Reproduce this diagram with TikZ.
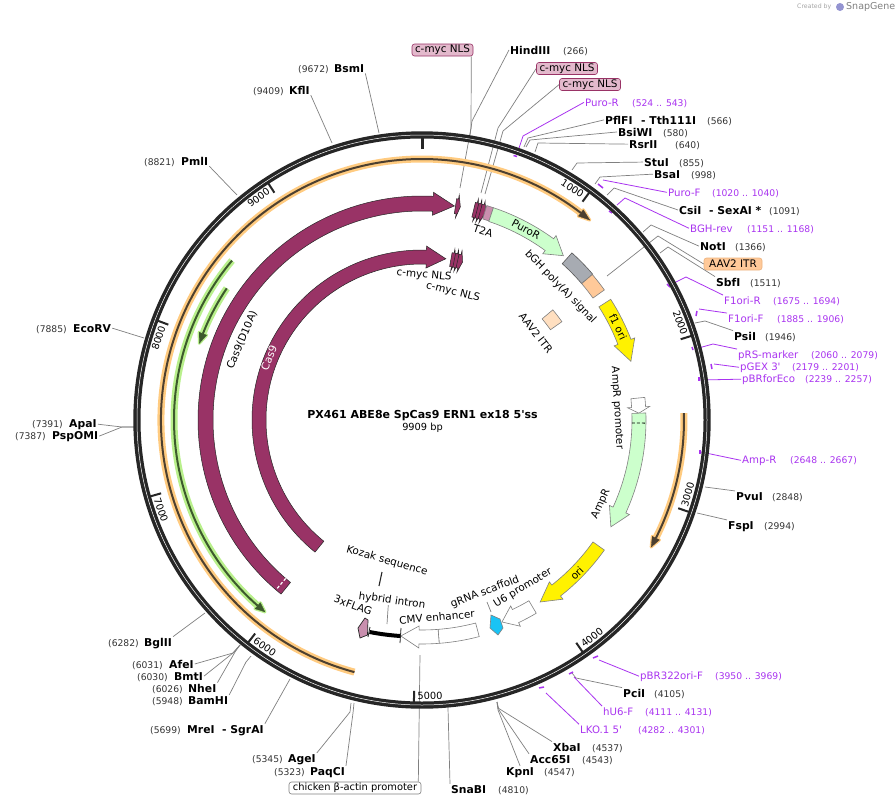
\documentclass[tikz,border=0pt]{standalone}
\usepackage{fontspec}
\setmainfont[Ligatures=TeXOff]{DejaVu Sans}
\definecolor{maroon}{HTML}{993366}
\definecolor{ringc}{HTML}{262626}
\definecolor{prim}{HTML}{A933F0}
\definecolor{lnc}{HTML}{808080}
\definecolor{numc}{HTML}{333333}
\definecolor{pinkf}{HTML}{C98FAE}
\definecolor{mycf}{HTML}{E3B9CC}
\definecolor{orhalo}{HTML}{FFCB80}
\definecolor{ordark}{HTML}{4D4030}
\definecolor{grhalo}{HTML}{B9F08C}
\definecolor{grdark}{HTML}{3D5A2D}
\definecolor{bghc}{HTML}{A7ABB2}
\definecolor{aavc}{HTML}{FFC999}
\definecolor{aavl}{HTML}{FFDFC0}
\definecolor{cyanf}{HTML}{19C3F5}
\definecolor{greenf}{HTML}{CCFFCC}
\tikzset{
  sitename/.style={anchor=base west,inner sep=1pt,font=\fontsize{10.8}{13}\selectfont\bfseries},
  sitenum/.style={anchor=base west,inner sep=1pt,text=numc,font=\fontsize{9.2}{11}\selectfont},
  primname/.style={anchor=base west,inner sep=1pt,text=prim,font=\fontsize{10.2}{13}\selectfont},
  primnum/.style={anchor=base west,inner sep=1pt,text=prim,font=\fontsize{9.2}{11}\selectfont},
  boxlab/.style={rounded corners=2.5pt,draw=maroon,fill=mycf,line width=.6pt,inner sep=0pt,minimum height=12pt,font=\fontsize{10.4}{12}\selectfont},
  feat/.style={inner sep=0pt,font=\fontsize{10.4}{12}\selectfont},
  ln/.style={draw=lnc,line width=.7pt},
  pl/.style={draw=prim,line width=.8pt},
  pt/.style={draw=prim,line width=1.5pt},
  fborder/.style={draw=gray,line width=.6pt},
  ticktick/.style={draw=ringc,line width=2pt},
  mycsty/.style={fill=maroon,draw=ringc,line width=.5pt},
}
% polar helpers: angles are clockwise from top
\newcommand\sect[5]{\draw[#5] ({90-#3}:#1) arc[start angle={90-#3},end angle={90-#4},radius=#1] -- ({90-#4}:#2) arc[start angle={90-#4},end angle={90-#3},radius=#2] -- cycle;}
\newcommand\arrowf[6]{\draw[#6,line join=miter] ({90-#3}:#1) arc[start angle={90-#3},end angle={90-#4},radius=#1] -- ({90-#4}:{#1-4}) -- ({90-#5}:{(#1+#2)/2}) -- ({90-#4}:{#2+4}) -- ({90-#4}:#2) arc[start angle={90-#4},end angle={90-#3},radius=#2] -- cycle;}
\newcommand\thinarrow[6]{%
  \draw[#5,line width=7pt] ({90-#2}:#1) arc[start angle={90-#2},end angle={90-#3},radius=#1];
  \draw[#5,fill=#5,line width=3pt,line join=round] ({90-#3}:{#1-4}) -- ({90-#4}:#1) -- ({90-#3}:{#1+4}) -- cycle;
  \draw[#6,line width=2pt] ({90-#2}:#1) arc[start angle={90-#2},end angle={90-#3},radius=#1];
  \draw[#6,fill=#6,line width=.3pt] ({90-#3}:{#1-4}) -- ({90-#4}:#1) -- ({90-#3}:{#1+4}) -- cycle;}
\newcommand\ticklab[3]{%
  \draw[ticktick] ({90-#2}:271) -- ({90-#2}:283);
  \pgfmathsetmacro\lt{#2-3.3}
  \pgfmathsetmacro\lr{(\lt>270 ? -\lt : (\lt>90 ? 180-\lt : -\lt))}
  \node[feat,rotate=\lr,font=\fontsize{9.8}{12}\selectfont] (#3) at ({90-\lt}:276) {#1};}
% labels
\newcommand\site[6]{\node[sitename] (#1) at (#2,#3+4) {#4};\node[sitenum] (#1n) at (#5,#3+4) {#6};}
\newcommand\primer[6]{\node[primname] (#1) at (#2,#3+4) {#4};\node[primnum] (#1n) at (#5,#3+4) {#6};}
% connector: name, style, start, middle path, end
\newcommand\cn[5]{\coordinate (#1e) at (#5);\path[#2] (#3) #4 -- (#1e);}
\begin{document}
\begin{tikzpicture}[x=1pt,y=-1pt]
\useasboundingbox (0,0) rectangle (895,806);
\fill[white] (0,0) rectangle (895,806);

% --- labels
\site{hind}{509}{50}{HindIII}{562}{(266)}
\site{pfl}{604}{120}{PflFI}{706}{(566)}
\node[sitename] (tth) at (640,124) {- Tth111I};
\site{bsi}{617}{132}{BsiWI}{662}{(580)}
\site{rsr}{628}{144}{RsrII}{674}{(640)}
\site{stu}{643}{162}{StuI}{678}{(855)}
\site{bsa}{653}{174}{BsaI}{690}{(998)}
\site{csi}{678}{210}{CsiI}{768}{(1091)}
\node[sitename] (sex) at (708,214) {- SexAI *};
\site{not}{699}{246}{NotI}{734}{(1366)}
\site{sbf}{715}{282}{SbfI}{749}{(1511)}
\site{psi}{733}{336}{PsiI}{764}{(1946)}
\site{pvu}{735}{496}{PvuI}{771}{(2848)}
\site{fsp}{727}{525}{FspI}{763}{(2994)}
\site{pci}{622}{693}{PciI}{653}{(4105)}
\site{xba}{552}{747}{XbaI}{591}{(4537)}
\site{acc}{529}{759}{Acc65I}{581}{(4543)}
\site{kpn}{505}{771}{KpnI}{543}{(4547)}
\site{sna}{450}{789}{SnaBI}{497}{(4810)}
\site{bsm}{333}{68}{BsmI}{297}{(9672)}
\site{kfl}{288}{90}{KflI}{252}{(9409)}
\site{pml}{180}{161}{PmlI}{143}{(8821)}
\site{eco}{72}{328}{EcoRV}{35}{(7885)}
\site{apa}{68}{423}{ApaI}{31}{(7391)}
\site{psp}{51}{435}{PspOMI}{14}{(7387)}
\site{bgl}{143}{642}{BglII}{107}{(6282)}
\site{afe}{168}{664}{AfeI}{131}{(6031)}
\site{bmt}{173}{676}{BmtI}{136}{(6030)}
\site{nhe}{187}{688}{NheI}{151}{(6026)}
\site{bam}{187}{700}{BamHI}{151}{(5948)}
\site{mre}{186}{729}{MreI}{149}{(5699)}
\node[sitename] (sgr) at (221,733) {- SgrAI};
\site{age}{287}{758}{AgeI}{251}{(5345)}
\site{paq}{309}{771}{PaqCI}{273}{(5323)}

\primer{pup}{584}{102}{Puro-R}{631}{(524 .. 543)}
\primer{puf}{667}{192}{Puro-F}{711}{(1020 .. 1040)}
\primer{bgr}{689}{228}{BGH-rev}{746}{(1151 .. 1168)}
\primer{f1r}{723}{300}{F1ori-R}{772}{(1675 .. 1694)}
\primer{f1f}{727}{318}{F1ori-F}{776}{(1885 .. 1906)}
\primer{prs}{737}{354}{pRS-marker}{810}{(2060 .. 2079)}
\primer{pgx}{739}{366}{pGEX 3'}{791}{(2179 .. 2201)}
\primer{pbr}{741}{378}{pBRforEco}{804}{(2239 .. 2257)}
\primer{amr}{741}{459}{Amp-R}{789}{(2648 .. 2667)}
\primer{pbo}{639}{675}{pBR322ori-F}{714}{(3950 .. 3969)}
\primer{hu6}{602}{711}{hU6-F}{644}{(4111 .. 4131)}
\primer{lko}{579}{729}{LKO.1 5'}{637}{(4282 .. 4301)}

\node[boxlab,minimum width=61pt] (m1) at (442.5,50) {c-myc NLS};
\node[boxlab,minimum width=61pt] (m2) at (567,68.5) {c-myc NLS};
\node[boxlab,minimum width=61pt] (m3) at (590,84.5) {c-myc NLS};
\node[boxlab,draw=aavc!70!brown,fill=aavc,minimum width=58pt] (aav) at (733,264) {AAV2 ITR};
\node[boxlab,draw=gray,fill=white,minimum width=132pt,font=\fontsize{9.9}{12}\selectfont] (chk) at (355,788) {chicken β-actin promoter};

% --- connectors (under the ring)
\cn{c1}{ln}{[xshift=-2pt]m1.south east}{-- (471,128)}{460,188}
\cn{c2}{ln}{m2.west}{-- (498,128)}{481,193}
\cn{c3}{ln}{m3.west}{-- (503,131)}{485,194}
\cn{hd}{ln}{hind.west}{-- (472,121)}{470,135}
\cn{pfc}{ln}{pfl.west}{-- (528,138)}{524,147}
\cn{bsc}{ln}{bsi.west}{-- (530,140)}{526,147}
\cn{rsc}{ln}{rsr.west}{-- (538,143)}{535,152}
\cn{stc}{ln}{stu.west}{-- (577,163)}{572,170}
\cn{bac}{ln}{bsa.west}{-- (600,177)}{595,184}
\cn{csc}{ln}{csi.west}{-- (614,188)}{607,195}
\cn{noc}{ln}{not.west}{-- (651,225)}{643,232}
\cn{aac}{ln}{aav.west}{-- (658,236)}{607,276}
\cn{sbc}{ln}{sbf.north west}{-- (668,247)}{660,253}
\cn{psc}{ln}{psi.north west}{-- (705,321)}{695,323}
\cn{pvc}{ln}{pvu.north west}{}{705,487}
\cn{fsc}{ln}{fsp.north west}{}{697,513}
\cn{pcc}{ln}{pci.north west}{-- (576,678)}{572,673}
\cn{xbc}{ln}{xba.north west}{-- (498,708)}{497,702}
\cn{acc}{ln}{acc.north west}{-- (499,710)}{497,702}
\cn{kpc}{ln}{kpn.north}{-- (498,710)}{497,702}
\cn{snc}{ln}{sna.north west}{}{448,708}
\cn{bsmc}{ln}{bsm.south east}{}{379,133}
\cn{kfc}{ln}{kfl.south east}{}{332,143}
\cn{pmc}{ln}{pml.south east}{}{237,195}
\cn{ecc}{ln}{eco.east}{}{144,338}
\cn{apc}{ln}{apa.east}{-- (122,427)}{134,427}
\cn{ppc}{ln}{psp.east}{-- (122,427)}{134,427}
\cn{bgc}{ln}{bgl.north east}{}{205,613}
\cn{afc}{ln}{afe.east}{-- (233,653)}{240,645}
\cn{bmc}{ln}{bmt.east}{-- (233,653)}{240,645}
\cn{nhc}{ln}{nhe.north east}{-- (235,652)}{240,645}
\cn{bmh}{ln}{bam.north east}{-- (246,662)}{251,656}
\cn{mrc}{ln}{sgr.north east}{}{290,679}
\cn{agc}{ln}{age.north east}{-- (350,712)}{351,703}
\cn{pqc}{ln}{paq.north east}{-- (353,713)}{354,703}
\cn{chc}{ln}{[xshift=-3pt]chk.north east}{}{420,655}
\cn{pc}{pl}{pup.west}{-- (523,136)}{519,148}
\cn{fc}{pl}{puf.west}{}{603,180}
\cn{gc}{pl}{bgr.west}{-- (625,198)}{617,205}
\cn{rc}{pl}{f1r.north west}{-- (686,277)}{672,284}
\cn{oc}{pl}{f1f.north west}{}{699,309}
\cn{sc}{pl}{prs.north west}{-- (713,344)}{695,349}
\cn{xc}{pl}{pgx.west}{}{714,364}
\cn{ec}{pl}{pbr.west}{}{700,380}
\cn{ac}{pl}{amr.west}{}{701,452}
\cn{bc}{pl}{pbo.west}{}{599,660}
\cn{uc}{pl}{hu6.north west}{}{574,677}
\cn{lc}{pl}{lko.north west}{}{546,693}
\draw[pt] (513.5,155.5) -- (517,156.5);
\draw[pt] (598,184) -- (603,188);
\draw[pt] (609,211) -- (612,213);
\draw[pt] (667,284) -- (670,287);
\draw[pt] (697,311) -- (696,316);
\draw[pt] (692,347) -- (693,350);
\draw[pt] (711,364) -- (712,369);
\draw[pt] (699,377) -- (699,381);
\draw[pt] (700,450) -- (700,454);
\draw[pt] (593,658) -- (598,656);
\draw[pt] (569,674) -- (573,672);
\draw[pt] (539,688) -- (544,687);

% --- circular parts
\begin{scope}[shift={(422,420)},x=1pt,y=1pt]
  % ring
  \fill[ringc,even odd rule] (0,0) circle (288.7) (0,0) circle (281.5);
  \draw[white,line width=.5pt] (0,0) circle (285);
  \ticklab{1000}{36.33}{t1}
  \ticklab{2000}{72.66}{t2}
  \ticklab{3000}{109}{t3}
  \ticklab{4000}{145.3}{t4}
  \ticklab{5000}{181.65}{t5}
  \ticklab{6000}{218}{t6}
  \ticklab{7000}{254.3}{t7}
  \ticklab{8000}{290.6}{t8}
  \ticklab{9000}{327}{t9}
  \draw[ticktick,line width=3pt] (90:271) -- (90:283);
  % thin annotated arrows
  \thinarrow{261}{-165}{37.5}{40}{orhalo}{ordark}
  \thinarrow{262}{88.5}{116.8}{119}{orhalo}{ordark}
  \thinarrow{248}{310}{221.5}{219.3}{grhalo}{grdark}
  \thinarrow{235.5}{304}{291.5}{289}{grhalo}{grdark}
  % Cas9 arcs
  \arrowf{209}{224}{-141}{2.9}{8.6}{fill=maroon,draw=ringc,line width=.5pt}
  \draw[white,densely dashed,line width=1.2pt] ({90+139.3}:209) -- ({90+139.3}:224);
  \arrowf{156}{170}{-141}{1.5}{8.4}{fill=maroon,draw=ringc,line width=.5pt}
  % outer feature ring
  \arrowf{209}{224}{8.9}{9.4}{10.2}{mycsty}
  \arrowf{209}{224}{13.8}{14.3}{15.2}{mycsty}
  \arrowf{209}{224}{14.7}{15.2}{16.1}{mycsty}
  \arrowf{209}{224}{15.6}{16.1}{17}{mycsty}
  \sect{210}{224}{16.8}{18.6}{fill=pinkf,fborder}
  \arrowf{209.5}{224}{18.6}{36}{40.7}{fill=greenf,fborder}
  \sect{210}{224.5}{41.9}{49.5}{fill=bghc,draw=gray!70!black,line width=.6pt}
  \sect{210}{224}{49.5}{54.5}{fill=aavc,fborder}
  \arrowf{210}{224}{57.4}{68.9}{74.3}{fill=yellow,fborder}
  \arrowf{210}{224}{84.2}{86.6}{88.2}{fill=white,fborder}
  \arrowf{210}{224}{88.2}{114.5}{119.5}{fill=greenf,fborder}
  \draw[black,densely dashed,line width=.8pt] ({90-90.8}:210) -- ({90-90.8}:224);
  \arrowf{210}{224}{125.5}{141.8}{147}{fill=yellow,fborder}
  \arrowf{210}{224.5}{149.4}{154.5}{158.4}{fill=white,fborder}
  \sect{210}{224}{165.2}{175.6}{fill=white,fborder}
  \arrowf{210}{224}{175.6}{180.8}{185.6}{fill=white,fborder}
  % inner ring items
  \arrowf{156}{170}{10.2}{10.9}{12}{mycsty}
  \arrowf{156}{170}{11.4}{12.1}{13.2}{mycsty}
  \arrowf{156}{170}{12.6}{13.3}{14.4}{mycsty}
  \sect{157}{171}{49.9}{54.9}{fill=aavl,fborder}
\end{scope}

% --- items near bottom
\draw[black,line width=4pt] (369.5,632) to[bend right=3] (400,636);
\draw[ringc,line width=.8pt] (370,627) -- (368,637);
\draw[ringc,line width=.8pt] (401,628) -- (400,643);
\draw[ringc,line width=.7pt,fill=pinkf] (365,618) -- (358,628) -- (360,638) -- (367.5,635) -- (368,620) -- cycle;
\draw[gray,line width=.6pt,fill=cyanf] (491,615) -- (500,619) -- (503,628) -- (498,635) -- (490,628) -- cycle;
\coordinate (hybe) at (387,624);
\node[feat,rotate=-8] (hyb) at (392,601) {hybrid intron};
\draw[ln] (hyb.south) ++(-3,-1) -- (hybe);
\node[feat,rotate=-16] (koz) at (387,561) {Kozak sequence};
\coordinate (koze) at (379,586);
\draw[draw=ringc,line width=1.1pt] (382,572) -- (koze);
\node[feat,rotate=21] (grna) at (485,592) {gRNA scaffold};
\coordinate (grne) at (491,612);
\draw[ln] (487,602) -- (grne);
\node[feat,rotate=31] (u6) at (523,588) {U6 promoter};
\node[feat,rotate=5] (cmv) at (437,617) {CMV enhancer};
\node[feat,rotate=-20] (flg) at (353,605) {3xFLAG};

% --- feature texts
\node[feat,rotate=-5] (mi1) at (424,275) {c-myc NLS};
\node[feat,rotate=-14] (mi2) at (453,292) {c-myc NLS};
\node[feat,rotate=-18] (t2a) at (483,231) {T2A};
\node[feat,rotate=-28] (pur) at (526,229) {PuroR};
\node[feat,rotate=-46] (bgh) at (560.5,287) {bGH poly(A) signal};
\node[feat,rotate=-52] (aavt) at (536,333) {AAV2 ITR};
\node[feat,rotate=-64] (f1t) at (618,327) {f1 ori};
\node[feat,rotate=-86.5] (apt) at (617,408) {AmpR promoter};
\node[feat,rotate=65] (amt) at (601,504) {AmpR};
\node[feat,rotate=45] (ort) at (577,573) {ori};
\node[feat,rotate=67] (d10) at (242,340) {Cas9(D10A)};
\node[feat,rotate=68,text=white,font=\fontsize{10.6}{12}\selectfont] (cs9) at (269,358) {Cas9};

% --- title
\node[inner sep=0pt,font=\fontsize{11}{13}\selectfont\bfseries] (ttl) at (422.5,415.5) {PX461 ABE8e SpCas9 ERN1 ex18 5'ss};
\node[inner sep=0pt,font=\fontsize{9.8}{12}\selectfont] (bp) at (422.5,427.5) {9909 bp};

% --- credit
\node[anchor=west,inner sep=0pt,text=gray!70,font=\fontsize{6.2}{8}\selectfont] (crd) at (797,7) {Created by};
\fill[gray!60!blue!60!white] (840,7) circle (4);
\node[anchor=west,inner sep=0pt,text=gray,font=\fontsize{9.5}{11}\selectfont] (sg) at (846,7) {SnapGene};
\end{tikzpicture}
\end{document}
